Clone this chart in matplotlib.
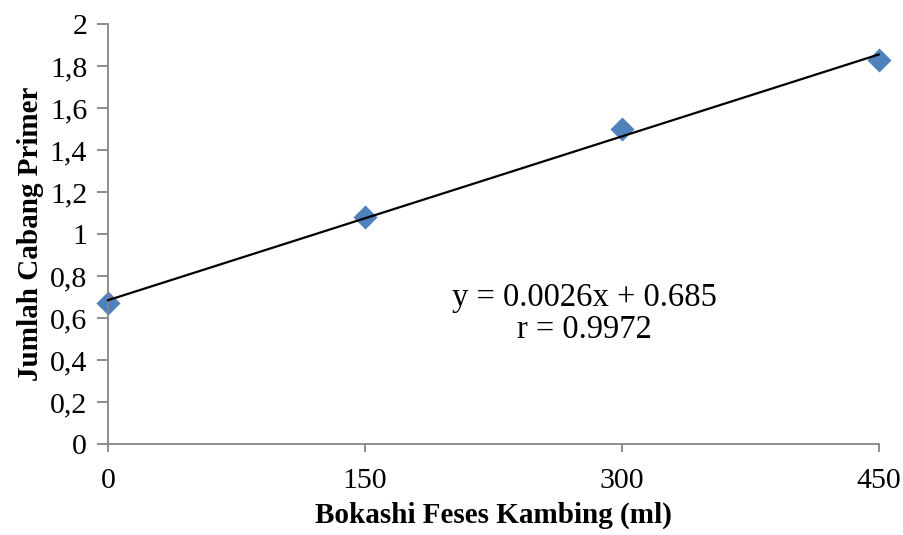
import numpy as np
import matplotlib
matplotlib.use("Agg")
import matplotlib.pyplot as plt
from matplotlib.ticker import FixedLocator, FuncFormatter

dosis = [0, 150, 300, 450]
cabang = [0.67, 1.08, 1.5, 1.83]
slope = 0.0026
intercept = 0.685
y_ticks = [0, 0.2, 0.4, 0.6, 0.8, 1.0, 1.2, 1.4, 1.6, 1.8, 2.0]

plt.rcParams['font.family'] = ['Liberation Serif', 'DejaVu Serif']

fig = plt.figure(figsize=(9.04, 5.35), dpi=100)
ax = fig.add_axes([0.1195, 0.170, 0.8525, 0.785])

ax.scatter(dosis, cabang, marker='D', s=150, color='#4F81BD', zorder=2,
           linewidths=0, clip_on=False)
xs = np.array([dosis[0], dosis[-1]])
ax.plot(xs, slope * xs + intercept, color='black', lw=1.6, zorder=3, clip_on=False)

ax.set_xlim(0, 450)
ax.set_ylim(0, 2)
ax.xaxis.set_major_locator(FixedLocator(dosis))
ax.yaxis.set_major_locator(FixedLocator(y_ticks))

def koma(v, pos):
    s = f"{v:.1f}".rstrip('0').rstrip('.')
    return s.replace('.', ',')

ax.yaxis.set_major_formatter(FuncFormatter(koma))

for side in ['top', 'right']:
    ax.spines[side].set_visible(False)
for side in ['left', 'bottom']:
    ax.spines[side].set_color('#868686')
    ax.spines[side].set_linewidth(1.3)

ax.tick_params(axis='y', length=8, width=1.3, color='#868686', labelsize=21.5, pad=7)
ax.tick_params(axis='x', length=6, width=1.3, color='#868686', labelsize=21.5, pad=11)

ax.set_xlabel('Bokashi Feses Kambing (ml)', fontsize=21, fontweight='bold', labelpad=6)
ax.set_ylabel('Jumlah Cabang Primer', fontsize=21, fontweight='bold', labelpad=4)

ax.text(278, 0.695, 'y = 0.0026x + 0.685', fontsize=23.5, ha='center', va='center')
ax.text(278, 0.543, 'r = 0.9972', fontsize=23.5, ha='center', va='center')

fig.savefig('out.png', dpi=100)
